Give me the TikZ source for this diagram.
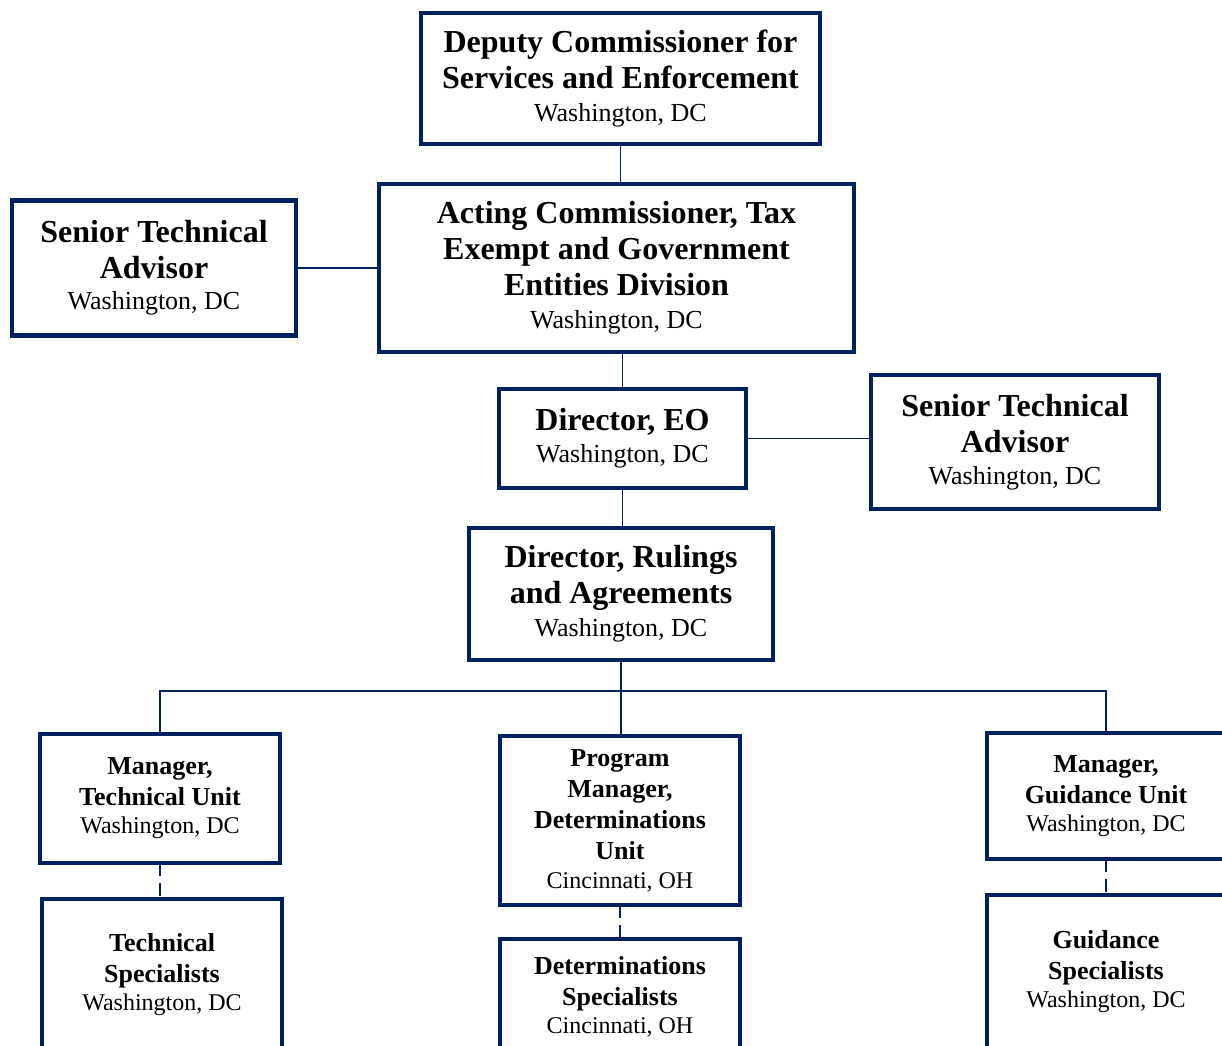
\documentclass[tikz,border=0pt]{standalone}
\usepackage{fontspec}
\setmainfont{Liberation Serif}
\usetikzlibrary{positioning}
\definecolor{irsblue}{RGB}{0,32,96}

\newcommand{\hd}[1]{{\fontsize{32}{36}\selectfont\bfseries #1}}
\newcommand{\shd}[1]{{\fontsize{26}{31}\selectfont\bfseries #1}}

\tikzset{
  box/.style={draw=irsblue, line width=4.5pt, align=center, inner sep=0pt, outer sep=0pt, font=\fontsize{26}{36}\selectfont},
  unitbox/.style={box, minimum width=240pt, font=\fontsize{24}{31}\selectfont},
  link/.style={color=irsblue, line width=1.8pt},
  dashlink/.style={link, dash pattern=on 13pt off 7pt}
}

\begin{document}
\begin{tikzpicture}[x=1pt, y=-1pt, node distance=36pt]
	\path[use as bounding box, clip] (0,0) rectangle (1222,1045);
	% top of the chart
	\node[box, minimum width=399pt, minimum height=131pt] (dep) at (620.5,78.5)
		{\hd{Deputy Commissioner for}\\ \hd{Services and Enforcement}\\[-3pt] Washington, DC};
	\node[box, minimum width=475pt, minimum height=168pt, below=40pt of dep, xshift=-4pt] (act)
		{\hd{Acting Commissioner, Tax}\\ \hd{Exempt and Government}\\ \hd{Entities Division}\\[-3pt] Washington, DC};
	\node[box, minimum width=284pt, minimum height=135pt, left=83pt of act] (sl)
		{\hd{Senior Technical}\\ \hd{Advisor}\\[-5pt] Washington, DC};
	\node[box, minimum width=247pt, minimum height=99pt, below=37pt of act, xshift=6pt] (eo)
		{\hd{Director, EO}\\[-4pt] Washington, DC};
	\node[box, minimum width=288pt, minimum height=134pt, right=125pt of eo, yshift=-3.5pt] (sr)
		{\hd{Senior Technical}\\ \hd{Advisor}\\[-4pt] Washington, DC};
	\node[box, minimum width=304pt, minimum height=132pt, below=40pt of eo, xshift=-1.5pt] (rul)
		{\hd{Director, Rulings}\\ \hd{and Agreements}\\[-3pt] Washington, DC};
	% units
	\node[unitbox, minimum height=169pt, below=76pt of rul, xshift=-1pt] (pm)
		{\shd{Program}\\ \shd{Manager,}\\ \shd{Determinations}\\ \shd{Unit}\\[-2pt] Cincinnati, OH};
	\node[unitbox, minimum height=129pt, left=220pt of pm, yshift=22pt] (mt)
		{\shd{Manager,}\\ \shd{Technical Unit}\\[-3pt] Washington, DC};
	\node[unitbox, minimum width=238pt, minimum height=126pt, right=247pt of pm, yshift=24.5pt] (mg)
		{\shd{Manager,}\\ \shd{Guidance Unit}\\[-3pt] Washington, DC};
	\node[unitbox, minimum height=152pt, below=36pt of mt, xshift=2pt] (ts)
		{\shd{Technical}\\ \shd{Specialists}\\[-3pt] Washington, DC};
	\node[unitbox, minimum height=115pt, below=34pt of pm] (ds)
		{\shd{Determinations}\\ \shd{Specialists}\\[-3pt] Cincinnati, OH};
	\node[unitbox, minimum width=238pt, minimum height=153pt, below=36pt of mg] (gs)
		{\shd{Guidance}\\ \shd{Specialists}\\[-3pt] Washington, DC};
	\coordinate[below=31pt of rul.south] (bus);

	\draw[link] (dep.south) -- (dep.south |- act.north)
		(act.south -| eo.north) -- (eo.north)
		(eo.south) -- (eo.south |- rul.north)
		(rul.south) -- (rul.south |- pm.north)
		(sl.east) -- (sl.east -| act.west)
		(eo.east) -- (eo.east -| sr.west);
	\draw[link] (mt.north) |- (bus) -| (mg.north);
	\draw[dashlink] (mt.south) -- (mt.south |- ts.north)
		(pm.south) -- (ds.north)
		(mg.south) -- (gs.north);
\end{tikzpicture}
\end{document}
